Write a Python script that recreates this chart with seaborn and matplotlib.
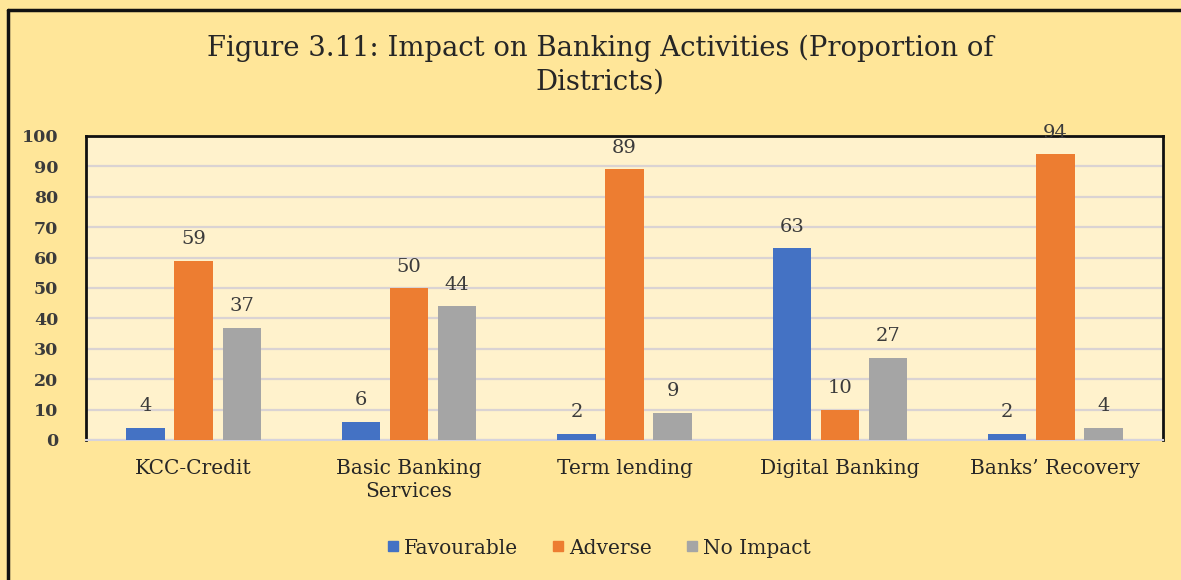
import matplotlib
matplotlib.use("Agg")
import matplotlib.pyplot as plt
import matplotlib.lines as mlines
import seaborn as sns
import pandas as pd

categories = ["KCC-Credit", "Basic Banking\nServices", "Term lending",
              "Digital Banking", "Banks\u2019 Recovery"]
series = ["Favourable", "Adverse", "No Impact"]
favourable = [4, 6, 2, 63, 2]
adverse = [59, 50, 89, 10, 94]
no_impact = [37, 44, 9, 27, 4]
y_ticks = [0, 10, 20, 30, 40, 50, 60, 70, 80, 90, 100]

colors = ["#4472C4", "#ED7D31", "#A5A5A5"]
fig_bg = "#FFE699"
ax_bg = "#FFF2CC"
text_col = "#3B3B3B"

df = pd.DataFrame({
    "Activity": categories * 3,
    "Impact": [s for s in series for _ in categories],
    "Value": favourable + adverse + no_impact,
})

sns.set_theme(style="white")
plt.rcParams["font.family"] = ["DejaVu Serif"]

fig = plt.figure(figsize=(11.81, 5.80), dpi=100, facecolor=fig_bg)
ax = fig.add_axes([86 / 1181, 1 - 440 / 580, (1163 - 86) / 1181, (440 - 136) / 580])
ax.set_facecolor(ax_bg)

sns.barplot(data=df, x="Activity", y="Value", hue="Impact", order=categories,
            hue_order=series, palette=colors, width=0.67, gap=0.2,
            saturation=1, ax=ax, legend=False, zorder=3, linewidth=0,
            edgecolor="none")

for container in ax.containers:
    ax.bar_label(container, fmt="%g", padding=9, fontsize=14, color=text_col)

ax.set_ylim(0, 100)
ax.set_xlim(-0.5, 4.5)
ax.set_yticks(y_ticks)
ax.set_yticklabels([str(t) for t in y_ticks], fontsize=12.5, fontweight="bold", color=text_col)
ax.tick_params(axis="y", length=0, pad=20)
ax.tick_params(axis="x", length=0, pad=14, labelsize=14.5, labelcolor="#262626")
for lbl in ax.get_xticklabels():
    lbl.set_linespacing(1.25)
ax.set_xlabel("")
ax.set_ylabel("")
ax.grid(axis="y", color="#DAD3D3", linewidth=1.6, zorder=0)
ax.set_axisbelow(True)
for side in ["left", "top", "right"]:
    ax.spines[side].set_color("#111111")
    ax.spines[side].set_linewidth(2)
ax.spines["bottom"].set_color("#D6D3DC")
ax.spines["bottom"].set_linewidth(1.5)

fig.text(600 / 1181, 1 - 65 / 580,
         "Figure 3.11: Impact on Banking Activities (Proportion of\nDistricts)",
         ha="center", va="center", fontsize=19.8, color="#262626", linespacing=1.3)

handles = [mlines.Line2D([], [], color=c, marker="s", linestyle="none", markersize=7)
           for c in colors]
fig.legend(handles, series, loc="center", bbox_to_anchor=(598 / 1181, 1 - 548 / 580),
           ncol=3, frameon=False, fontsize=14.5, handletextpad=0.15, columnspacing=1.6,
           handlelength=0.8, labelcolor="#262626")

# outer frame edges along the left and top
fig.add_artist(mlines.Line2D([8 / 1181, 8 / 1181], [0, 1 - 10 / 580],
                             transform=fig.transFigure, color="#111111", linewidth=2.5))
fig.add_artist(mlines.Line2D([8 / 1181, 1], [1 - 10 / 580, 1 - 10 / 580],
                             transform=fig.transFigure, color="#111111", linewidth=2.5))

fig.savefig("out.png", dpi=100, facecolor=fig_bg)
